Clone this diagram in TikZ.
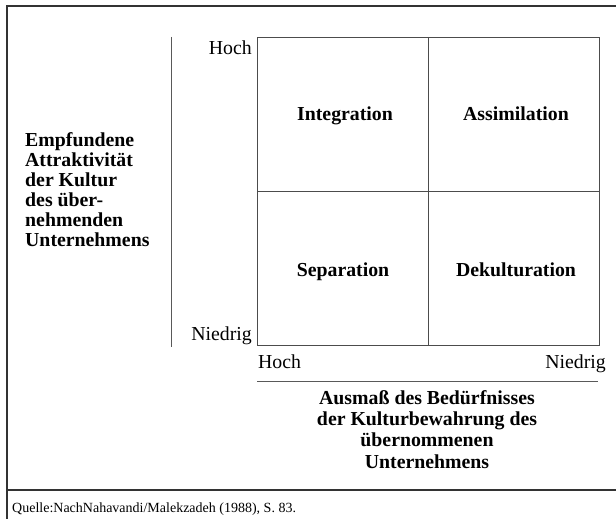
\documentclass[tikz,border=0pt]{standalone}
\usepackage{fontspec}
\setmainfont{Liberation Serif}
\begin{document}
\begin{tikzpicture}[x=1pt,y=-1pt,
  frameline/.style={draw=black!80,line width=1.1pt},
  gridline/.style={draw=black!70,line width=0.9pt},
  axisline/.style={draw=black!65,line width=0.8pt},
  quadlabel/.style={font=\fontsize{19.8}{22}\selectfont\bfseries,inner sep=0pt,anchor=base},
  ticklabel/.style={font=\fontsize{19.8}{22}\selectfont,inner sep=0pt},
  axistitle/.style={font=\fontsize{19.8}{21.3}\selectfont\bfseries,inner sep=0pt,align=center},
  lefttitle/.style={font=\fontsize{19.8}{20}\selectfont\bfseries,inner sep=0pt,align=left},
  notelabel/.style={font=\fontsize{14}{16}\selectfont,inner sep=0pt}]
\useasboundingbox (0,0) rectangle (616,519);
% outer frame and footnote rule
\coordinate (ftl) at (7,6);
\coordinate (ftr) at (616,6);
\coordinate (fbl) at (7,519);
\coordinate (rl) at (7,490);
\coordinate (rr) at (616,490);
\draw[frameline] (ftr) -- (ftl) -- (fbl);
\draw[frameline] (rl) -- (rr);
% matrix of the four quadrants
\coordinate (gtl) at (257,37);
\coordinate (gbr) at (599,345);
\coordinate (gmt) at (428,37);
\coordinate (gmb) at (428,345);
\coordinate (gml) at (257,191);
\coordinate (gmr) at (599,191);
\draw[gridline] (gtl) rectangle (gbr);
\draw[gridline] (gmt) -- (gmb);
\draw[gridline] (gml) -- (gmr);
\node[quadlabel] (integ) at (345,121) {Integration};
\node[quadlabel] (assim) at (516,121) {Assimilation};
\node[quadlabel] (separ) at (343,276) {Separation};
\node[quadlabel] (dekul) at (516,276) {Dekulturation};
% vertical axis
\coordinate (vat) at (171,37);
\coordinate (vab) at (171,347);
\draw[axisline] (vat) -- (vab);
\node[ticklabel,anchor=base east] (vhoch) at (252,55) {Hoch};
\node[ticklabel,anchor=base east] (vnied) at (252,340) {Niedrig};
\node[lefttitle,anchor=north west] (vtitle) at (25,132) {Empfundene\\Attraktivität\\der Kultur\\des über-\\nehmenden\\Unternehmens};
% horizontal axis
\coordinate (hal) at (257,381);
\coordinate (har) at (598,381);
\draw[axisline] (hal) -- (har);
\node[ticklabel,anchor=base west] (hhoch) at (258,368) {Hoch};
\node[ticklabel,anchor=base east] (hnied) at (606,368) {Niedrig};
\node[axistitle,anchor=north] (htitle) at (427,390) {Ausmaß des Bedürfnisses\\der Kulturbewahrung des\\übernommenen\\Unternehmens};
% source note
\node[notelabel,anchor=base west] (note) at (12,512) {Quelle:NachNahavandi/Malekzadeh (1988), S. 83.};
\end{tikzpicture}
\end{document}
